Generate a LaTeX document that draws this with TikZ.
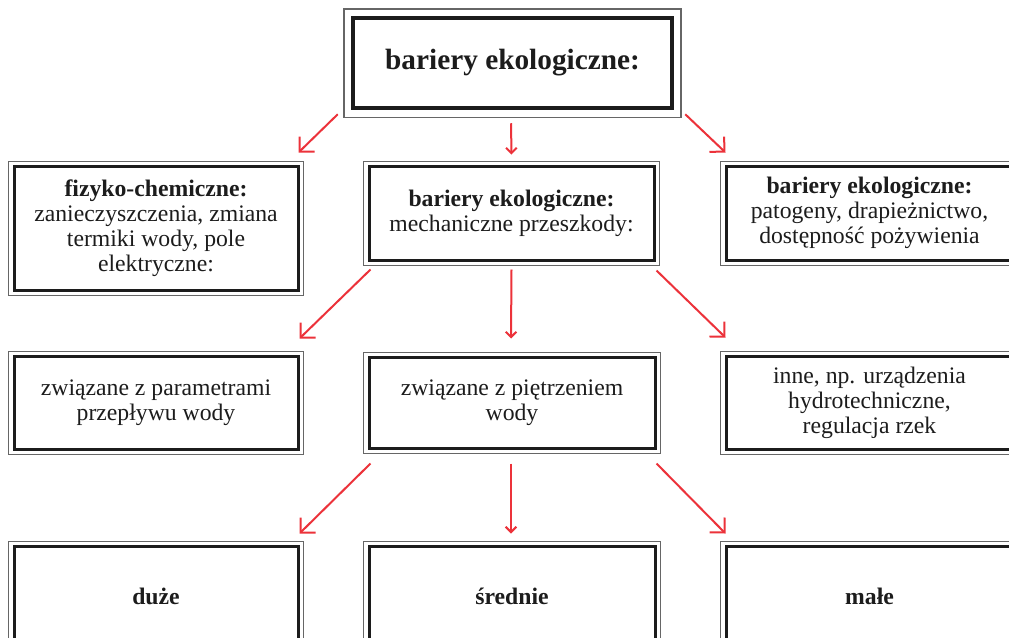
\documentclass[tikz,border=0pt]{standalone}
\usepackage{fontspec}
\setmainfont{Liberation Serif}
\usetikzlibrary{arrows.meta}
\definecolor{arrred}{RGB}{236,50,58}
\definecolor{ink}{RGB}{28,28,28}
\tikzset{
  box/.style={draw=ink, line width=3pt, inner sep=0pt, align=center, text=ink,
    font=\fontsize{23.7}{25}\selectfont},
  bigarr/.style={draw=arrred, line width=2pt, -{Straight Barb[angle=90:15pt]}},
  smallarr/.style={draw=arrred, line width=2pt, -{Straight Barb[angle=90:7.5pt]}},
  frame/.style={draw=black!60, line width=1pt}
}
\begin{document}
\begin{tikzpicture}[x=1pt,y=-1pt]
\useasboundingbox (0,0) rectangle (1009,637);
\clip (0,0) rectangle (1009,637);
\fill[white] (0,0) rectangle (1009,637);

% boxes
\node[box, line width=4.5pt, minimum width=319pt, minimum height=90pt,
  font=\fontsize{29.3}{32}\selectfont\bfseries] (top) at (512.5,63) {bariery ekologiczne:};

\node[box, minimum width=284pt, minimum height=124pt] (fc) at (156,228)
  {\textbf{fizyko-chemiczne:}\\zanieczyszczenia, zmiana\\termiki wody, pole\\elektryczne:};
\node[box, minimum width=285pt, minimum height=94pt] (me) at (511.5,213)
  {\textbf{bariery ekologiczne:}\\mechaniczne przeszkody:};
\node[box, minimum width=287pt, minimum height=94pt] (bi) at (869.5,213)
  {\textbf{bariery ekologiczne:}\\patogeny, drapieżnictwo,\\dostępność pożywienia};

\node[box, minimum width=284pt, minimum height=93pt] (pa) at (156,402.5)
  {związane z parametrami\\przepływu wody};
\node[box, minimum width=286pt, minimum height=91pt] (pi) at (512,402.5)
  {związane z piętrzeniem\\wody};
\node[box, minimum width=287pt, minimum height=93pt] (in) at (869.5,402.5)
  {inne, np. urządzenia\\hydrotechniczne,\\regulacja rzek};

\node[box, minimum width=284pt, minimum height=100pt, font=\fontsize{23.7}{25}\selectfont\bfseries] (du) at (156,596) {duże};
\node[box, minimum width=286pt, minimum height=100pt, font=\fontsize{23.7}{25}\selectfont\bfseries] (sr) at (512,596) {średnie};
\node[box, minimum width=287pt, minimum height=100pt, font=\fontsize{23.7}{25}\selectfont\bfseries] (ma) at (869.5,596) {małe};

% outer thin frames
\draw[frame, line width=1.5pt] ([shift={(-7,-7)}]top.north west) rectangle ([shift={(6.5,7)}]top.south east);
\foreach \n in {fc,me,bi,pa,pi,in,du,sr,ma}
  \draw[frame] ([shift={(-3.8,-3.5)}]\n.north west) rectangle ([shift={(3.8,3.5)}]\n.south east);

% arrows top -> row 1
\draw[bigarr] ([shift={(-13,4)}]top.south west) -- ([shift={(-1,-12)}]fc.north east);
\draw[smallarr] ([shift={(-1.5,13)}]top.south) -- ([shift={(0,-10)}]me.north);
\draw[bigarr] ([shift={(11,4)}]top.south east) -- ([shift={(1,-12)}]bi.north west);

% arrows row 1 -> row 2
\draw[bigarr] ([shift={(3,8)}]me.south west) -- ([shift={(0,-16)}]pa.north east);
\draw[smallarr] ([shift={(0,8)}]me.south) -- ([shift={(-1,-17)}]pi.north);
\draw[bigarr] ([shift={(1,9)}]me.south east) -- ([shift={(1,-17)}]in.north west);

% arrows row 2 -> row 3
\draw[bigarr] ([shift={(3,14)}]pi.south west) -- ([shift={(0,-11)}]du.north east);
\draw[smallarr] ([shift={(-1,14)}]pi.south) -- ([shift={(-1,-11)}]sr.north);
\draw[bigarr] ([shift={(0,14)}]pi.south east) -- ([shift={(1,-11)}]ma.north west);
\end{tikzpicture}
\end{document}
